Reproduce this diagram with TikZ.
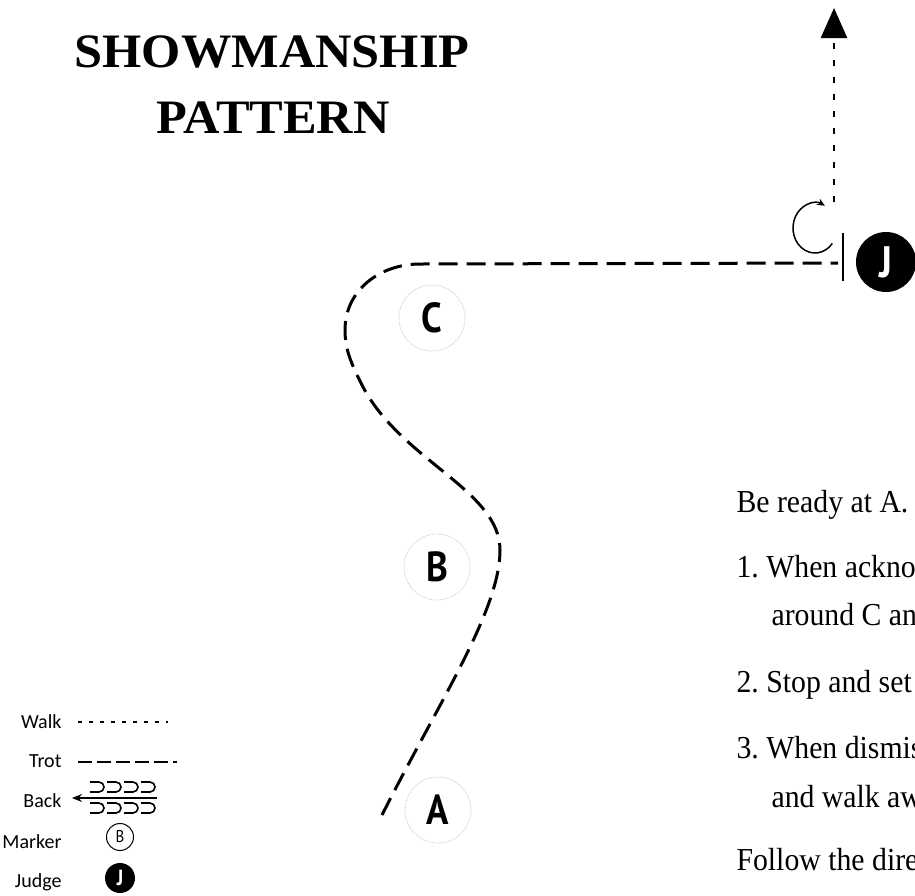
\documentclass[tikz,border=0pt]{standalone}
\usepackage{fontspec}
\setmainfont[FakeStretch=0.93]{Liberation Serif}
\newfontfamily\titlefont[FakeStretch=1.05]{Liberation Serif}
\newfontfamily\legendfont{Carlito}
\newfontfamily\markerfont[FakeStretch=0.88]{PT Sans}
\usetikzlibrary{positioning,arrows.meta}
\frenchspacing

\begin{document}
\begin{tikzpicture}[x=1pt, y=-1pt, >=Stealth,
    marker/.style={circle, draw=gray!45, densely dotted, line width=0.8pt, minimum size=66pt,
                   inner sep=0pt, font=\markerfont\bfseries\fontsize{42}{42}\selectfont},
    judge/.style={circle, fill=black, text=white, minimum size=60pt, inner sep=0pt,
                  font=\markerfont\bfseries\fontsize{44}{44}\selectfont},
    trot/.style={line width=3pt, dash pattern=on 19pt off 9pt},
    walk/.style={line width=2.5pt, dash pattern=on 6pt off 11pt},
    loop/.style={line width=1.6pt},
    instr/.style={anchor=base west, font=\fontsize{32}{32}\selectfont},
    title/.style={anchor=base, font=\titlefont\bfseries\fontsize{48}{48}\selectfont},
    legtext/.style={anchor=base east, font=\legendfont\fontsize{20}{20}\selectfont}]
    \useasboundingbox (0,0) rectangle (915,895);
    % title
    \node[title] (head) at (272,67) {SHOWMANSHIP};
    \node[title] (head2) at (273,133) {PATTERN};
    % markers and judge
    \node[marker] (C) at (432,318) {C};
    \node[marker] (B) at (437,567) {B};
    \node[marker] (A) at (438,810) {A};
    \node[judge] (J) at (886,262) {J};
    % trot path A -> B -> C -> judge
    \coordinate (start) at (382,815);
    \coordinate (stop) at (838,263);
    \draw[trot] (start) .. controls (440,700) and (500,610) .. (500,550)
        .. controls (500,490) and (400,460) .. (362,385)
        .. controls (348,358) and (345,345) .. (345,330)
        .. controls (345,290) and (380,264) .. (420,264) -- (stop);
    \coordinate (bartop) at (843,233);
    \coordinate (barbot) at (843,281);
    \draw[line width=2.5pt] (bartop) -- (barbot);
    % turn, then walk away
    \coordinate (turn) at (815,228);
    \draw[line width=1.5pt, -{Stealth[length=8pt, width=7pt]}]
        ([shift={(38:22 and 25)}]turn) arc[start angle=38, end angle=297, x radius=22, y radius=25];
    \coordinate (walkstart) at (834,202);
    \coordinate (walkend) at (834,8);
    \draw[walk, -{Triangle[length=30pt, width=26pt]}] (walkstart) -- (walkend);
    % instructions
    \node[instr] (ready) at (733,512) {Be ready at A.};
    \node[instr] (step1) at (733,577) {1. When acknow};
    \node[instr] (step1b) at (768,625) {around C and};
    \node[instr] (step2) at (733,692) {2. Stop and set};
    \node[instr] (step3) at (733,758) {3. When dismiss};
    \node[instr] (step3b) at (768,807) {and walk awa};
    \node[instr] (follow) at (733,870) {Follow the direc};
    % legend
    \node[legtext] (lwalk) at (65,728) {Walk};
    \node[legtext] (ltrot) at (65,767) {Trot};
    \node[legtext] (lback) at (65,807) {Back};
    \node[legtext] (lmark) at (65,848) {Marker};
    \node[legtext] (ljudge) at (65,887) {Judge};
    \draw[walk, line width=2.2pt, dash pattern=on 4pt off 7pt] (78,722) -- (168,722);
    \draw[trot, line width=2.5pt, dash pattern=on 14pt off 5pt] (78,762) -- (177,762);
    \draw[line width=1.5pt, -{Stealth[length=10pt, width=8pt]}] (157,798) -- (72,798);
    \foreach \x in {90,107,124,141} {
        \draw[loop] (\x,782) -- ++(9,0) arc[start angle=-90, end angle=90, radius=5] -- ++(-9,0);
        \draw[loop] (\x,803) -- ++(9,0) arc[start angle=-90, end angle=90, radius=5] -- ++(-9,0);
    }
    \node[circle, draw, line width=1pt, minimum size=27pt, inner sep=0pt,
          font=\markerfont\fontsize{17}{17}\selectfont] (lB) at (120,837) {B};
    \node[judge, minimum size=30pt, font=\markerfont\bfseries\fontsize{22}{22}\selectfont] (lJ) at (120,878) {J};
\end{tikzpicture}
\end{document}
